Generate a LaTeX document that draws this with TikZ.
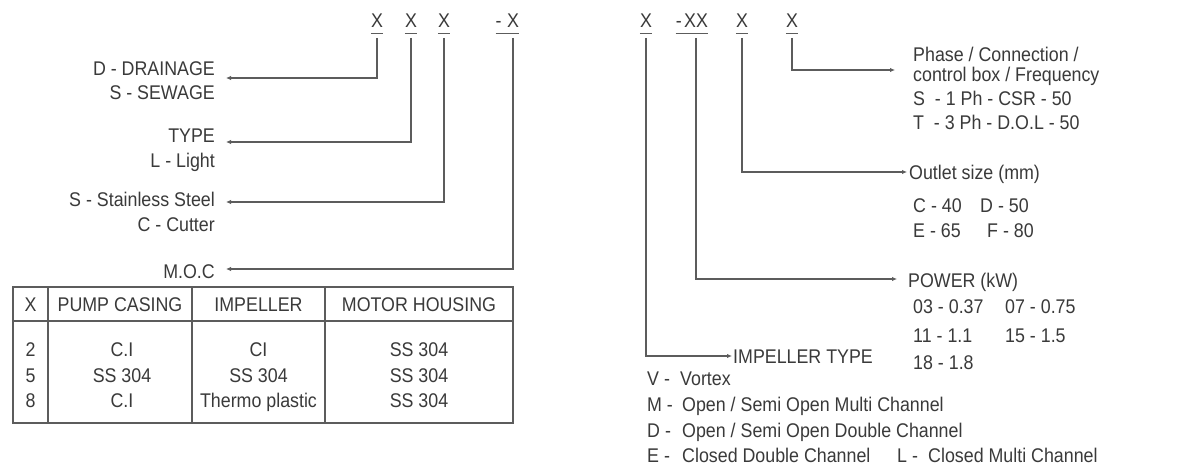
\documentclass[tikz,border=0pt]{standalone}
\usepackage{fontspec}
\setmainfont{Liberation Sans}[FakeStretch=0.9]
\usetikzlibrary{arrows.meta}
\definecolor{ink}{HTML}{3A3A3A}
\definecolor{wire}{HTML}{5C5C5C}
\begin{document}
\begin{tikzpicture}[x=1pt,y=-1pt,
  txt/.style={font=\fontsize{19.8}{22}\selectfont, text=ink, inner sep=0pt},
  L/.style={txt, anchor=base east},
  R/.style={txt, anchor=base west},
  C/.style={txt, anchor=base},
  conn/.style={draw=wire, line width=1.2pt, -{Latex[length=5pt,width=4.5pt]}},
  uline/.style={draw=wire, line width=0.9pt},
  grid/.style={draw=wire, line width=1.2pt}]
\useasboundingbox (0,0) rectangle (1199,465);
\fill[white] (0,0) rectangle (1199,465);
% code letters
\node[C] (k1) at (377,28) {X};
\node[C] (k2) at (411,28) {X};
\node[C] (k3) at (444,28) {X};
\node[C] (k4) at (513,28) {X};
\node[txt,anchor=base east] (d4) at ([xshift=-5pt]k4.base west) {-};
\node[C] (k5) at (646,28) {X};
\node[C] (k6) at (696,28) {XX};
\node[txt,anchor=base east] (d6) at ([xshift=-2pt]k6.base west) {-};
\node[C] (k7) at (742,28) {X};
\node[C] (k8) at (792,28) {X};
\foreach \k in {k1,k2,k3,k5,k7,k8}
  \draw[uline] ([yshift=-5pt]\k.base west) -- ([yshift=-5pt]\k.base east);
\draw[uline] ([yshift=-5pt]d4.base west) -- ([yshift=-5pt]k4.base east);
\draw[uline] ([yshift=-5pt]d6.base west) -- ([yshift=-5pt]k6.base east);
% arrow end points
\coordinate (t1) at (226,78);
\coordinate (t2) at (226,142);
\coordinate (t3) at (226,202);
\coordinate (t4) at (226,269);
\coordinate (t5) at (732,356);
\coordinate (t6) at (897,279);
\coordinate (t7) at (907,172);
\coordinate (t8) at (895,70);
\foreach \k/\t in {k1/t1,k2/t2,k3/t3,k4/t4,k5/t5,k6/t6,k7/t7,k8/t8}
  \draw[conn] ([yshift=-10pt]\k.base) |- (\t);
% left labels
\node[L] (l1a) at (215,76) {D - DRAINAGE};
\node[L] (l1b) at (215,100) {S - SEWAGE};
\node[L] (l2a) at (215,143) {TYPE};
\node[L] (l2b) at (215,168) {L - Light};
\node[L] (l3a) at (215,207) {S - Stainless Steel};
\node[L] (l3b) at (215,232) {C - Cutter};
\node[L] (l4) at (215,278) {M.O.C};
% table
\draw[grid] (13,287) rectangle (513,423);
\draw[grid] (13,321) -- (513,321);
\foreach \xx in {48,192,325} \draw[grid] (\xx,287) -- (\xx,423);
\node[C] (h1) at (30.5,311) {X};
\node[C] (h2) at (120,311) {PUMP CASING};
\node[C] (h3) at (258.5,311) {IMPELLER};
\node[C] (h4) at (419,311) {MOTOR HOUSING};
\node[C] (a1) at (30.5,356) {2};
\node[C] (a2) at (122,356) {C.I};
\node[C] (a3) at (258.5,356) {CI};
\node[C] (a4) at (419,356) {SS 304};
\node[C] (b1) at (30.5,382) {5};
\node[C] (b2) at (122,382) {SS 304};
\node[C] (b3) at (258.5,382) {SS 304};
\node[C] (b4) at (419,382) {SS 304};
\node[C] (c1) at (30.5,407) {8};
\node[C] (c2) at (122,407) {C.I};
\node[C] (c3) at (258.5,407) {Thermo plastic};
\node[C] (c4) at (419,407) {SS 304};
% right labels
\node[R] (r8a) at (913,62) {Phase / Connection /};
\node[R] (r8b) at (913,82) {control box / Frequency};
\node[R] (r8c) at (913,106) {S\ \ - 1 Ph - CSR - 50};
\node[R] (r8d) at (913,130) {T\ \ - 3 Ph - D.O.L - 50};
\node[R] (r7a) at (909,180) {Outlet size (mm)};
\node[R] (r7b) at (913,212) {C - 40};
\node[R] (r7c) at (980,212) {D - 50};
\node[R] (r7d) at (913,237) {E - 65};
\node[R] (r7e) at (987,237) {F - 80};
\node[R] (r6a) at (908,287) {POWER (kW)};
\node[R] (r6b) at (913,313) {03 - 0.37};
\node[R] (r6c) at (1005,313) {07 - 0.75};
\node[R] (r6d) at (913,342) {11 - 1.1};
\node[R] (r6e) at (1005,342) {15 - 1.5};
\node[R] (r6f) at (913,369) {18 - 1.8};
\node[R] (r5a) at (733,363) {IMPELLER TYPE};
\node[R] (v1) at (647,385) {V -};
\node[R] (v2) at (680,385) {Vortex};
\node[R] (m1) at (647,411) {M -};
\node[R] (m2) at (682,411) {Open / Semi Open Multi Channel};
\node[R] (e1) at (647,437) {D -};
\node[R] (e2) at (682,437) {Open / Semi Open Double Channel};
\node[R] (f1) at (647,462) {E -};
\node[R] (f2) at (682,462) {Closed Double Channel};
\node[R] (g1) at (897,462) {L -};
\node[R] (g2) at (928,462) {Closed Multi Channel};
\end{tikzpicture}
\end{document}
